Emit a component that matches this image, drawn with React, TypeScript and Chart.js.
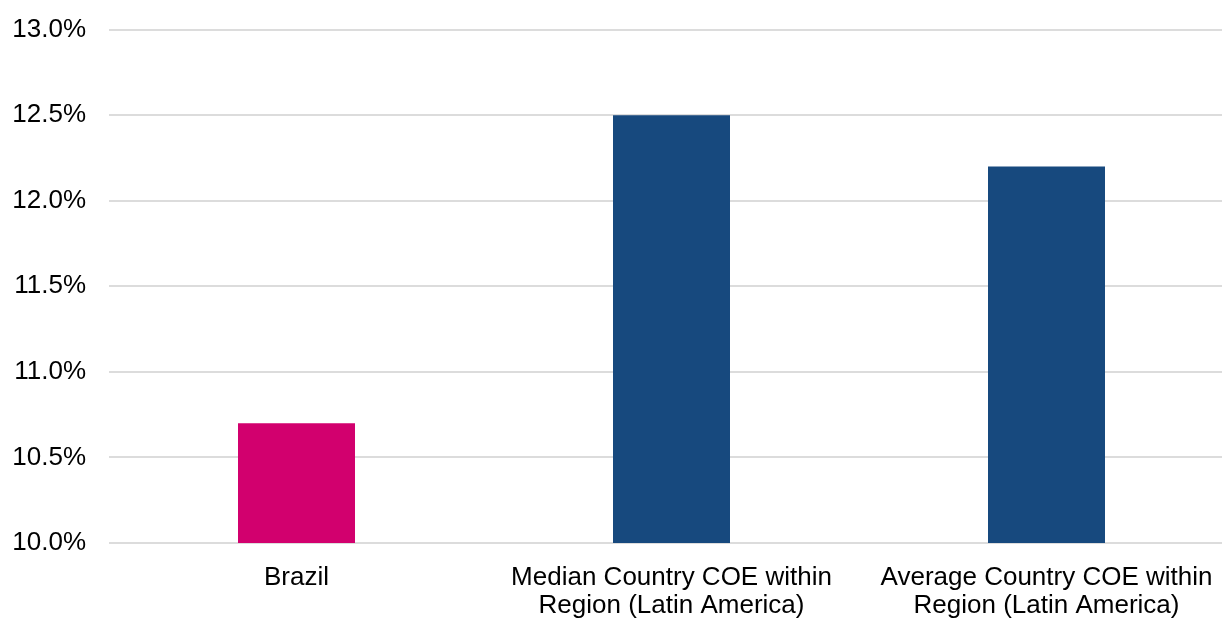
import React, { useEffect, useRef } from "react";
import { Chart, registerables } from "chart.js";

Chart.register(...registerables);

const categories: (string | string[])[] = [
  "Brazil",
  ["Median Country COE within", "Region (Latin America)"],
  ["Average Country COE within", "Region (Latin America)"],
];
const values: number[] = [10.7, 12.5, 12.2];
const barColors: string[] = ["#D2006E", "#17497E", "#17497E"];
const yMin = 10;
const yMax = 13;
const yStep = 0.5;

export default function App() {
  const ref = useRef<HTMLCanvasElement | null>(null);
  useEffect(() => {
    if (!ref.current) return;
    const font = "'Liberation Sans', Arial, sans-serif";
    const chart = new Chart(ref.current, {
      type: "bar",
      data: {
        labels: categories,
        datasets: [
          {
            data: values,
            backgroundColor: barColors,
            borderWidth: 0,
            categoryPercentage: 1,
            barPercentage: 0.312,
          },
        ],
      },
      options: {
        responsive: false,
        animation: false,
        layout: { padding: { top: 20, right: 6, left: 0, bottom: 0 } },
        plugins: { legend: { display: false }, tooltip: { enabled: false } },
        scales: {
          x: {
            offset: true,
            grid: { display: false, drawTicks: false },
            border: { display: false },
            ticks: {
              color: "#000000",
              padding: 21,
              maxRotation: 0,
              autoSkip: false,
              font: { family: font, size: 26, lineHeight: 1.08 },
            },
            afterFit: (s: any) => {
              s.height = 117;
            },
          },
          y: {
            min: yMin,
            max: yMax,
            grid: { color: "#DCDCDC", lineWidth: 2, drawTicks: false },
            border: { display: false },
            ticks: {
              stepSize: yStep,
              color: "#000000",
              padding: 23,
              font: { family: font, size: 26 },
              callback: (v: any) => Number(v).toFixed(1) + "%",
            },
            afterFit: (s: any) => {
              s.width = 109;
            },
          },
        },
      },
    });
    return () => chart.destroy();
  }, []);
  return (
    <div
      style={{
        position: "fixed",
        left: 0,
        top: 0,
        width: 1222,
        height: 618,
        overflow: "hidden",
        background: "#ffffff",
      }}
    >
      <canvas
        ref={ref}
        width={1240}
        height={669}
        style={{ display: "block", marginTop: -9 }}
      />
    </div>
  );
}
